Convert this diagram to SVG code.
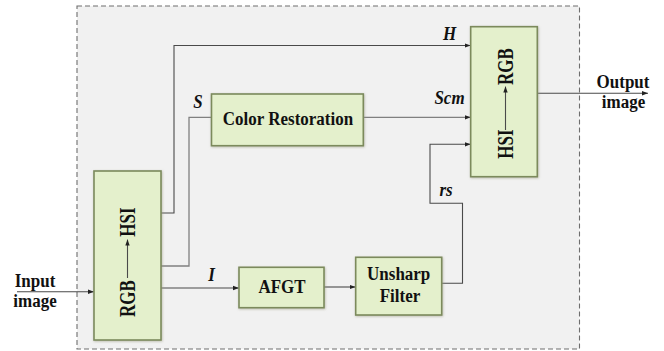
<svg xmlns="http://www.w3.org/2000/svg" width="664" height="351" viewBox="0 0 664 351">
<defs>
<marker id="arr" markerUnits="userSpaceOnUse" markerWidth="6" markerHeight="6" viewBox="0 0 6 6" refX="6" refY="3" orient="auto">
<path d="M0,0.8 L6,3 L0,5.2 Z" fill="#222"/>
</marker>
<filter id="sh" x="-10%" y="-10%" width="120%" height="120%">
<feDropShadow dx="0.6" dy="0.8" stdDeviation="0.8" flood-color="#9a9a80" flood-opacity="0.6"/>
</filter>
</defs>
<style>
.box{fill:#e4f0cc;stroke:#7b8a5c;stroke-width:1.6;filter:url(#sh)}
text{font-family:'Liberation Serif','Times New Roman',serif;font-weight:bold;font-size:17px;fill:#111;text-anchor:middle}
.i{font-style:italic}
.c{fill:none;stroke:#4a4a4a;stroke-width:1.1}
.cl{fill:none;stroke:#808080;stroke-width:1.3}
</style>
<rect x="0" y="0" width="664" height="351" fill="#ffffff"/>
<rect id="frame" x="77" y="6" width="502.5" height="343" fill="#f1f1f1" stroke="#6e6e6e" stroke-width="1.1" stroke-dasharray="5,3"/>

<g id="connectors">
<path class="c" d="M17,291.7 H94" marker-end="url(#arr)"/>
<path class="c" d="M161,213 H174 V45.5 H470.7" marker-end="url(#arr)"/>
<path class="cl" d="M161,266 H189 V117.3 H211.5"/>
<path class="cl" d="M363.3,117.3 H470.7" marker-end="url(#arr)"/>
<path class="c" d="M161,288 H239" marker-end="url(#arr)"/>
<path class="c" d="M324,287 H355.7" marker-end="url(#arr)"/>
<path class="c" d="M441.7,283.3 H462.5 V203.3 H430 V144.3 H470.7" marker-end="url(#arr)"/>
<path class="c" d="M537.3,93.3 H648" marker-end="url(#arr)"/>
<text class="i" transform="translate(449.5,40) scale(1,1.12)">H</text>
<text class="i" transform="translate(198,108) scale(1,1.12)">S</text>
<text class="i" transform="translate(449.5,104) scale(1,1.12)">Scm</text>
<text class="i" transform="translate(446,196) scale(1,1.12)">rs</text>
<text class="i" transform="translate(211.5,281) scale(1,1.12)">I</text>
</g>

<g id="input-label">
<text transform="translate(35,287) scale(1,1.12)">Input</text>
<text transform="translate(35,307) scale(1,1.12)">image</text>
</g>

<g id="rgb2hsi">
<rect class="box" x="94" y="171" width="67" height="169"/>
<text transform="translate(135,298.5) rotate(-90) scale(1,1.3)">RGB</text>
<text transform="translate(135,222) rotate(-90) scale(1,1.3)">HSI</text>
<path class="c" d="M127.5,278 V239.5" stroke="#222" marker-end="url(#arr)"/>
</g>

<g id="color-restoration">
<rect class="box" x="211.5" y="94" width="151.8" height="51.7"/>
<text transform="translate(288,125.3) scale(1,1.12)">Color Restoration</text>
</g>

<g id="afgt">
<rect class="box" x="239" y="267.3" width="85" height="40.4"/>
<text transform="translate(282,292.7) scale(1,1.12)">AFGT</text>
</g>

<g id="unsharp">
<rect class="box" x="355.7" y="257.3" width="86" height="57.7"/>
<text transform="translate(398.7,280) scale(1,1.12)">Unsharp</text>
<text transform="translate(400,301.7) scale(1,1.12)">Filter</text>
</g>

<g id="hsi2rgb">
<rect class="box" x="470.7" y="26.7" width="66.6" height="150"/>
<text transform="translate(513,66.5) rotate(-90) scale(1,1.3)">RGB</text>
<text transform="translate(513,144) rotate(-90) scale(1,1.3)">HSI</text>
<path class="c" d="M505.5,130 V86.5" stroke="#222" marker-end="url(#arr)"/>
</g>

<g id="output-label">
<text transform="translate(623,88) scale(1,1.12)">Output</text>
<text transform="translate(623.5,108) scale(1,1.12)">image</text>
</g>
</svg>
